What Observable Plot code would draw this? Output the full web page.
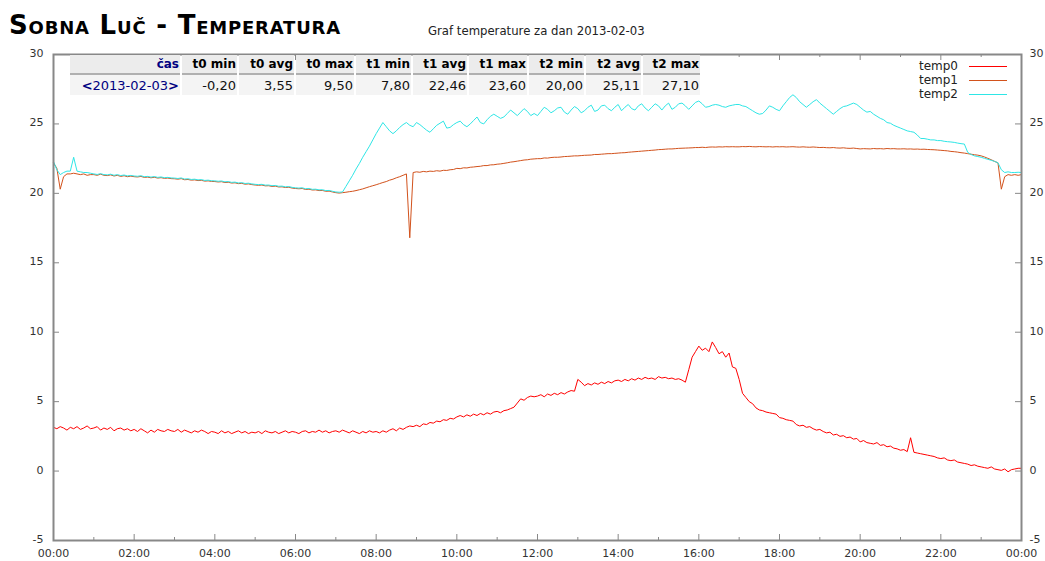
<!DOCTYPE html>
<html>
<head>
<meta charset="utf-8">
<script src="https://cdn.jsdelivr.net/npm/d3@7"></script>
<script src="https://cdn.jsdelivr.net/npm/@observablehq/plot@0.6"></script>
<style>
  body { margin: 0; background: #fff; font-family: "DejaVu Sans", sans-serif; }
  #wrap { position: relative; width: 1045px; height: 561px; overflow: hidden; }
  #chart { position: absolute; left: 0; top: 0; }
  #title { position: absolute; left: 9px; top: 10px; margin: 0; font-size: 26px; line-height: 30px; letter-spacing: 0.8px;
           font-weight: bold; font-variant: small-caps; white-space: nowrap; color: #000; }
  #subtitle { position: absolute; left: 428px; top: 25px; font-size: 11.7px; line-height: 13px; color: #222; white-space: nowrap; }
  #stats { position: absolute; left: 68px; top: 55px; border-collapse: separate; border-spacing: 2px 0;
           table-layout: fixed; font-family: "DejaVu Sans", sans-serif; }
  #stats th { background: #ececec; font-size: 12px; font-weight: bold; text-align: right; padding: 0 1px 0 0;
              height: 18px; border-bottom: 2px solid #b0b0b0; color: #000; white-space: nowrap; }
  #stats td { background: #f4f4f4; font-size: 13px; text-align: right; padding: 0 1px 0 0; height: 20px; color: #111; white-space: nowrap; }
  #stats th.first { color: #000080; }
  #stats td.first { color: #000080; }
  #stats td.first b { color: #000080; }
  #legend { position: absolute; left: 880px; top: 59px; }
  .lg-row { position: relative; height: 14px; width: 140px; }
  .lg-text { position: absolute; right: 62px; top: 0; font-size: 12px; line-height: 14px; color: #222; }
  .lg-line { position: absolute; left: 89px; width: 38px; top: 7px; height: 1px; }
</style>
</head>
<body>
<div id="wrap">
  <div id="chart"></div>
  <h1 id="title">Sobna Luč - Temperatura</h1>
  <div id="subtitle">Graf temperature za dan 2013-02-03</div>
  <table id="stats"></table>
  <div id="legend"></div>
</div>
<script>
// ---------- data ----------
const seriesNames = ["temp0", "temp1", "temp2"];
const seriesColors = ["#ff0000", "#d2521c", "#2ee6e6"];
const dayStartUTC = Date.UTC(2013, 1, 3);
const stepMinutes = 5;

// temp0: one row per hour, 12 samples (every 5 min), plus final 24:00 value
const temp0 = [
  3.15, 3.05, 3.2, 3.1, 2.95, 3.15, 3.05, 3.2, 3.0, 3.1, 3.25, 3.05,
  3.1, 3.2, 2.95, 3.1, 3.0, 3.15, 2.9, 3.05, 3.1, 2.95, 3.05, 2.9,
  3.0, 2.85, 3.05, 2.9, 2.75, 2.95, 2.8, 3.0, 2.9, 2.85, 3.0, 2.9,
  2.85, 3.0, 2.8, 2.95, 2.85, 2.75, 2.9, 2.8, 2.95, 2.85, 2.7, 2.85,
  2.8, 2.7, 2.9, 2.75, 2.85, 2.7, 2.8, 2.9, 2.75, 2.85, 2.7, 2.8,
  2.75, 2.85, 2.7, 2.9, 2.8, 2.75, 2.85, 2.7, 2.8, 2.9, 2.75, 2.85,
  2.8, 2.7, 2.85, 2.9, 2.75, 2.85, 2.8, 2.95, 2.8, 2.9, 2.75, 2.85,
  2.9, 2.8, 2.95, 2.85, 2.75, 2.9, 2.8, 2.7, 2.85, 2.75, 2.9, 2.8,
  2.85, 2.75, 2.9, 2.8, 2.95, 3.05, 2.9, 3.1, 3.0, 3.15, 3.25, 3.2,
  3.3, 3.2, 3.4, 3.35, 3.5, 3.45, 3.6, 3.55, 3.7, 3.65, 3.8, 3.75,
  3.9, 4.0, 3.9, 4.05, 3.95, 4.1, 4.0, 4.15, 4.05, 4.2, 4.1, 4.25,
  4.3, 4.2, 4.35, 4.4, 4.5, 4.6, 4.9, 5.2, 5.1, 5.3, 5.4, 5.35,
  5.4, 5.5, 5.35, 5.55, 5.45, 5.6, 5.5, 5.65, 5.55, 5.7, 5.8, 5.75,
  6.6, 6.4, 6.15, 6.3, 6.2, 6.35, 6.25, 6.4, 6.3, 6.45, 6.35, 6.5,
  6.55, 6.45, 6.6, 6.5, 6.65, 6.55, 6.7, 6.6, 6.75, 6.65, 6.7, 6.6,
  6.8, 6.7, 6.75, 6.65, 6.7, 6.6, 6.65, 6.55, 6.4, 7.3, 8.2, 8.6,
  9.0, 8.7, 8.85, 8.6, 9.3, 8.9, 8.45, 8.6, 8.2, 8.5, 7.5, 7.4,
  6.6, 5.6, 5.3, 5.0, 4.85, 4.55, 4.4, 4.35, 4.25, 4.2, 4.15, 4.1,
  3.85, 3.8, 3.7, 3.65, 3.6, 3.35, 3.25, 3.3, 3.15, 3.2, 3.05, 2.95,
  3.0, 2.85, 2.75, 2.8, 2.6, 2.65, 2.5, 2.55, 2.4, 2.45, 2.3, 2.35,
  2.1, 2.2, 2.05, 2.0, 1.95, 2.05, 1.85, 1.9, 1.75, 1.8, 1.65, 1.6,
  1.5, 1.55, 1.4, 2.4, 1.35, 1.3, 1.25, 1.2, 1.15, 1.1, 1.05, 0.95,
  0.9, 0.95, 0.8, 0.75, 0.8, 0.65, 0.6, 0.55, 0.5, 0.4, 0.45, 0.35,
  0.3, 0.25, 0.2, 0.3, 0.15, 0.1, 0.05, 0.15, -0.05, 0.1, 0.15, 0.2,
  0.2
];

const temp1 = [
  22.2, 21.8, 20.3, 21.2, 21.4, 21.4, 21.45, 21.4, 21.35, 21.4, 21.3, 21.35,
  21.35, 21.3, 21.38, 21.3, 21.28, 21.33, 21.25, 21.3, 21.22, 21.27, 21.2, 21.24,
  21.2, 21.18, 21.22, 21.15, 21.17, 21.12, 21.16, 21.1, 21.13, 21.08, 21.1, 21.06,
  21.05, 21.02, 21.06, 20.98, 21.0, 20.95, 20.97, 20.92, 20.94, 20.88, 20.9, 20.86,
  20.85, 20.82, 20.84, 20.78, 20.8, 20.74, 20.76, 20.7, 20.72, 20.66, 20.68, 20.63,
  20.6, 20.58, 20.6, 20.54, 20.55, 20.5, 20.52, 20.46, 20.47, 20.42, 20.44, 20.38,
  20.35, 20.33, 20.35, 20.28, 20.3, 20.24, 20.25, 20.2, 20.21, 20.15, 20.16, 20.1,
  20.05, 20.02, 20.05, 20.08, 20.12, 20.15, 20.2, 20.26, 20.32, 20.4, 20.48, 20.55,
  20.62, 20.7, 20.78, 20.85, 20.95, 21.02, 21.12, 21.2, 21.3, 21.4, 16.8, 21.5,
  21.55, 21.52, 21.58, 21.55, 21.6, 21.58, 21.63, 21.6, 21.66, 21.65, 21.7, 21.72,
  21.8, 21.78, 21.84, 21.83, 21.88, 21.9, 21.93, 21.95, 22.0, 22.0, 22.05, 22.06,
  22.1, 22.12, 22.16, 22.2, 22.25, 22.28, 22.32, 22.36, 22.4, 22.42, 22.46, 22.48,
  22.5, 22.5, 22.55, 22.54, 22.58, 22.6, 22.6, 22.62, 22.65, 22.66, 22.68, 22.7,
  22.7, 22.72, 22.74, 22.75, 22.76, 22.8, 22.8, 22.82, 22.84, 22.86, 22.86, 22.88,
  22.9, 22.92, 22.93, 22.96, 22.98, 23.0, 23.02, 23.04, 23.06, 23.08, 23.1, 23.12,
  23.15, 23.16, 23.18, 23.2, 23.2, 23.22, 23.24, 23.25, 23.26, 23.27, 23.28, 23.3,
  23.3, 23.32, 23.3, 23.33, 23.34, 23.33, 23.35, 23.34, 23.36, 23.35, 23.36, 23.35,
  23.35, 23.37, 23.36, 23.38, 23.36, 23.35, 23.37, 23.36, 23.35, 23.36, 23.34, 23.36,
  23.35, 23.36, 23.34, 23.35, 23.36, 23.34, 23.33, 23.35, 23.33, 23.32, 23.34, 23.32,
  23.3, 23.31, 23.29, 23.28, 23.3, 23.27, 23.26, 23.28, 23.25, 23.24, 23.26, 23.23,
  23.2, 23.22, 23.21, 23.2, 23.23, 23.21, 23.22, 23.2, 23.23, 23.21, 23.22, 23.2,
  23.2, 23.21, 23.19, 23.2, 23.18, 23.19, 23.17, 23.18, 23.16, 23.15, 23.14, 23.12,
  23.1, 23.08, 23.06, 23.02, 23.0, 22.97, 22.93, 22.9, 22.86, 22.82, 22.78, 22.75,
  22.7, 22.62, 22.52, 22.42, 22.3, 22.2, 20.3, 21.2, 21.35, 21.3, 21.35, 21.3,
  21.35
];

const temp2 = [
  22.3, 21.7, 21.35, 21.5, 21.6, 21.6, 22.6, 21.6, 21.55, 21.5, 21.5, 21.45,
  21.4, 21.36, 21.42, 21.35, 21.33, 21.38, 21.3, 21.35, 21.28, 21.32, 21.26, 21.29,
  21.25, 21.23, 21.27, 21.2, 21.22, 21.17, 21.21, 21.15, 21.18, 21.13, 21.15, 21.11,
  21.1, 21.07, 21.11, 21.03, 21.05, 21.0, 21.02, 20.97, 20.99, 20.93, 20.95, 20.91,
  20.9, 20.87, 20.89, 20.83, 20.85, 20.79, 20.81, 20.75, 20.77, 20.71, 20.73, 20.68,
  20.65, 20.63, 20.65, 20.59, 20.6, 20.55, 20.57, 20.51, 20.52, 20.47, 20.49, 20.43,
  20.4, 20.38, 20.4, 20.33, 20.35, 20.29, 20.3, 20.25, 20.26, 20.2, 20.21, 20.15,
  20.1, 20.08, 20.1, 20.5, 20.9, 21.3, 21.75, 22.15, 22.6, 23.0, 23.4, 23.85,
  24.3, 24.7, 25.1, 24.8, 24.5, 24.3, 24.5, 24.75, 24.95, 25.1, 24.9, 24.8,
  25.1, 24.95, 24.75, 24.55, 24.4, 24.65, 24.9, 25.05, 25.2, 24.7, 24.75, 24.95,
  25.1, 25.2, 24.95, 24.8, 25.0, 25.25, 25.5, 25.1, 25.0, 25.3, 25.55, 25.7,
  25.55, 25.4, 25.5, 25.75, 26.0, 25.8, 25.6, 25.85, 26.1, 25.9, 25.6, 25.75,
  25.6, 25.9, 26.2, 26.05, 25.8, 25.95, 26.15, 26.2, 25.85, 25.7, 26.0, 26.25,
  26.1, 25.8, 25.95, 26.2, 26.35, 25.9, 26.0, 26.3, 26.35, 26.1, 25.95, 26.2,
  26.4, 25.95, 26.2, 26.4, 26.1, 26.0, 26.3, 26.45, 26.15, 25.95, 26.2, 26.45,
  26.3, 26.0, 26.3, 26.5, 26.05, 26.2, 26.45, 26.5, 26.3, 26.05, 26.3, 26.55,
  26.65, 26.45, 26.2, 26.25, 26.35, 26.4, 26.35, 26.25, 26.2, 26.3, 26.35, 26.4,
  26.4, 26.3, 26.25, 26.1, 25.95, 25.8, 25.7, 25.75, 26.0, 26.3, 26.2, 26.05,
  25.95, 26.3, 26.6, 26.9, 27.1, 26.9, 26.6, 26.4, 26.2, 26.4, 26.6, 26.75,
  26.5, 26.3, 26.1, 25.9, 25.7, 25.9, 26.1, 26.25, 26.3, 26.4, 26.5, 26.4,
  26.2, 26.0, 25.85, 25.9, 25.7, 25.55, 25.4, 25.3, 25.1, 25.05, 24.9, 24.8,
  24.7, 24.6, 24.5, 24.45, 24.4, 24.2, 23.95, 23.95, 23.9, 23.85, 23.85, 23.8,
  23.8, 23.75, 23.72, 23.7, 23.67, 23.62, 23.58, 23.55, 22.95, 22.8, 22.7, 22.65,
  22.6, 22.52, 22.45, 22.38, 22.3, 22.2, 21.7, 21.5, 21.55, 21.5, 21.5, 21.52,
  21.5
];

// axis ticks
const xMajorHours = [0, 2, 4, 6, 8, 10, 12, 14, 16, 18, 20, 22, 24];
const xMinorHours = [1, 3, 5, 7, 9, 11, 13, 15, 17, 19, 21, 23];
const yTickValues = [-5, 0, 5, 10, 15, 20, 25, 30];

// stats table
const statHeaders = ["čas", "t0 min", "t0 avg", "t0 max", "t1 min", "t1 avg", "t1 max", "t2 min", "t2 avg", "t2 max"];
const statValues = ["2013-02-03", "-0,20", "3,55", "9,50", "7,80", "22,46", "23,60", "20,00", "25,11", "27,10"];
const statWidths = [110, 55, 55, 58, 55, 54, 58, 55, 55, 57];

// ---------- build ----------
const hourMs = 3600000;
const rows = [];
[temp0, temp1, temp2].forEach((arr, k) => {
  arr.forEach((v, i) => rows.push({series: seriesNames[k], t: new Date(dayStartUTC + i * stepMinutes * 60000), v}));
});
const toDate = h => new Date(dayStartUTC + h * hourMs);
const xMajor = xMajorHours.map(toDate);
const xMinor = xMinorHours.map(toDate);

const W = 1045, H = 561, mL = 53, mR = 24, mT = 54, mB = 21;
const innerW = W - mL - mR, innerH = H - mT - mB;
const axisGray = "#888";
const fmt = d3.utcFormat("%H:%M");
const yFmt = d => String(d);

const chart = Plot.plot({
  width: W, height: H,
  marginLeft: mL, marginRight: mR, marginTop: mT, marginBottom: mB,
  style: {fontFamily: "DejaVu Sans, sans-serif", fontSize: "11px", color: "#333", background: "transparent", overflow: "visible"},
  x: {type: "utc", domain: [toDate(0), toDate(24)]},
  y: {domain: [-5, 30]},
  color: {domain: seriesNames, range: seriesColors},
  marks: [
    Plot.line(rows, {x: "t", y: "v", z: "series", stroke: "series", strokeWidth: 1}),
    // inner ticks (gnuplot style, mirrored)
    Plot.tickX(xMajor, {x: d => d, insetTop: innerH - 6, stroke: axisGray}),
    Plot.tickX(xMajor, {x: d => d, insetBottom: innerH - 6, stroke: axisGray}),
    Plot.tickX(xMinor, {x: d => d, insetTop: innerH - 3, stroke: axisGray}),
    Plot.tickX(xMinor, {x: d => d, insetBottom: innerH - 3, stroke: axisGray}),
    Plot.tickY(yTickValues, {y: d => d, insetRight: innerW - 6, stroke: axisGray}),
    Plot.tickY(yTickValues, {y: d => d, insetLeft: innerW - 6, stroke: axisGray}),
    Plot.frame({stroke: axisGray, strokeWidth: 2}),
    Plot.axisX(xMajor, {tickSize: 0, tickPadding: 9, tickFormat: fmt, label: null, fill: "#333"}),
    Plot.axisY(yTickValues, {anchor: "left", tickSize: 0, tickPadding: 10, tickFormat: yFmt, label: null, fill: "#333", dy: -1}),
    Plot.axisY(yTickValues, {anchor: "right", tickSize: 0, tickPadding: 8, tickFormat: yFmt, label: null, fill: "#333", dy: -1})
  ]
});
document.getElementById("chart").appendChild(chart);

// table
const table = document.getElementById("stats");
const colgroup = document.createElement("colgroup");
statWidths.forEach(w => { const c = document.createElement("col"); c.style.width = w + "px"; colgroup.appendChild(c); });
table.appendChild(colgroup);
const trh = document.createElement("tr");
statHeaders.forEach((h, i) => { const th = document.createElement("th"); th.textContent = h; if (i === 0) th.className = "first"; trh.appendChild(th); });
table.appendChild(trh);
const trd = document.createElement("tr");
statValues.forEach((v, i) => {
  const td = document.createElement("td");
  if (i === 0) {
    td.className = "first";
    const l = document.createElement("b"); l.textContent = "<";
    const r = document.createElement("b"); r.textContent = ">";
    td.appendChild(l); td.appendChild(document.createTextNode(v)); td.appendChild(r);
  } else td.textContent = v;
  trd.appendChild(td);
});
table.appendChild(trd);

// legend
const legend = document.getElementById("legend");
seriesNames.forEach((name, i) => {
  const row = document.createElement("div"); row.className = "lg-row";
  const t = document.createElement("span"); t.className = "lg-text"; t.textContent = name;
  const l = document.createElement("div"); l.className = "lg-line"; l.style.background = seriesColors[i];
  row.appendChild(t); row.appendChild(l); legend.appendChild(row);
});
</script>
</body>
</html>
